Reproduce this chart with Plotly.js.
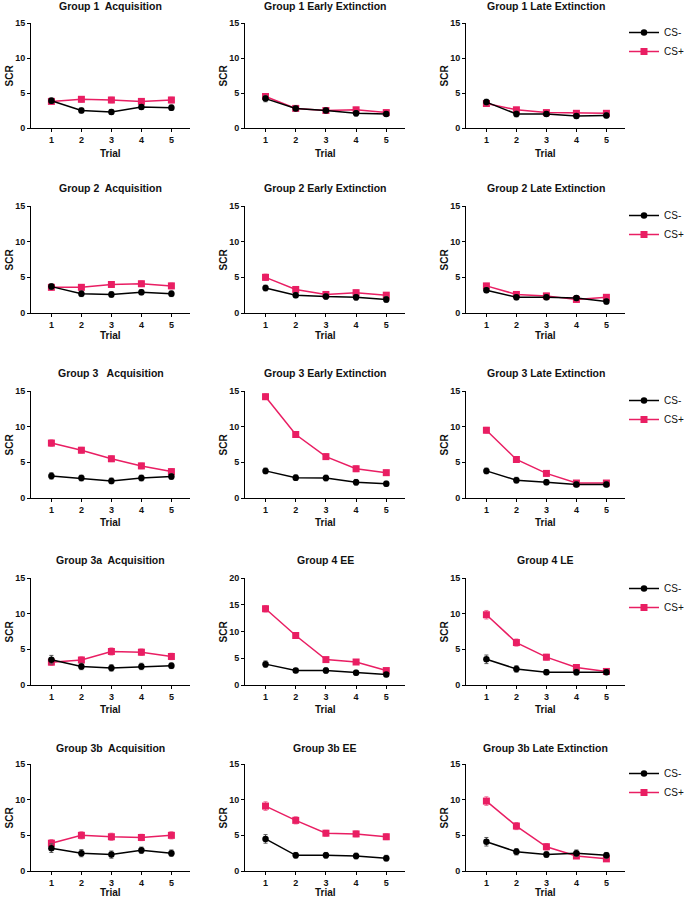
<!DOCTYPE html>
<html>
<head>
<meta charset="utf-8">
<script src="https://cdn.plot.ly/plotly-3.0.1.min.js"></script>
<style>html,body{margin:0;padding:0;background:#fff;overflow:hidden;}#chart{width:687px;height:899px;}</style>
</head>
<body>
<div id="chart"></div>
<script>
// ---- data ----
const trials = [1, 2, 3, 4, 5];
const seriesNames = ["CS-", "CS+"];
const panelTitles = [
  "Group 1\u00a0 Acquisition", "Group 1 Early Extinction", "Group 1 Late Extinction",
  "Group 2\u00a0 Acquisition", "Group 2 Early Extinction", "Group 2 Late Extinction",
  "Group 3\u00a0\u00a0 Acquisition", "Group 3 Early Extinction", "Group 3 Late Extinction",
  "Group 3a\u00a0 Acquisition", "Group 4 EE", "Group 4 LE",
  "Group 3b\u00a0 Acquisition", "Group 3b EE", "Group 3b Late Extinction"
];
const xAxisTitle = "Trial";
const yAxisTitle = "SCR";
const yTickVals15 = [0, 5, 10, 15];
const yTickVals20 = [0, 5, 10, 15, 20];

// means (SCR) and error (SEM) per panel
const g1AcqMinus = [3.9, 2.5, 2.3, 3.0, 2.9];  const g1AcqMinusErr = [0.4, 0.35, 0.35, 0.35, 0.4];
const g1AcqPlus  = [3.8, 4.1, 4.0, 3.8, 4.0];  const g1AcqPlusErr  = [0.4, 0.4, 0.4, 0.4, 0.4];
const g1EEMinus  = [4.2, 2.8, 2.5, 2.1, 2.0];  const g1EEMinusErr  = [0.45, 0.35, 0.35, 0.4, 0.35];
const g1EEPlus   = [4.5, 2.8, 2.5, 2.6, 2.2];  const g1EEPlusErr   = [0.4, 0.35, 0.35, 0.35, 0.35];
const g1LEMinus  = [3.7, 2.0, 2.0, 1.7, 1.8];  const g1LEMinusErr  = [0.4, 0.4, 0.35, 0.35, 0.35];
const g1LEPlus   = [3.5, 2.6, 2.2, 2.1, 2.1];  const g1LEPlusErr   = [0.4, 0.35, 0.35, 0.35, 0.35];

const g2AcqMinus = [3.7, 2.7, 2.6, 2.9, 2.7];  const g2AcqMinusErr = [0.4, 0.4, 0.4, 0.35, 0.4];
const g2AcqPlus  = [3.6, 3.6, 4.0, 4.1, 3.8];  const g2AcqPlusErr  = [0.4, 0.4, 0.4, 0.4, 0.4];
const g2EEMinus  = [3.5, 2.5, 2.3, 2.2, 1.9];  const g2EEMinusErr  = [0.4, 0.35, 0.35, 0.4, 0.4];
const g2EEPlus   = [5.0, 3.3, 2.6, 2.85, 2.5]; const g2EEPlusErr   = [0.45, 0.4, 0.35, 0.35, 0.35];
const g2LEMinus  = [3.2, 2.2, 2.2, 2.1, 1.6];  const g2LEMinusErr  = [0.35, 0.35, 0.35, 0.35, 0.35];
const g2LEPlus   = [3.8, 2.6, 2.4, 1.9, 2.2];  const g2LEPlusErr   = [0.35, 0.35, 0.35, 0.35, 0.35];

const g3AcqMinus = [3.1, 2.8, 2.4, 2.8, 3.0];  const g3AcqMinusErr = [0.45, 0.4, 0.4, 0.4, 0.4];
const g3AcqPlus  = [7.7, 6.7, 5.5, 4.5, 3.7];  const g3AcqPlusErr  = [0.45, 0.4, 0.4, 0.4, 0.4];
const g3EEMinus  = [3.8, 2.85, 2.8, 2.2, 2.0]; const g3EEMinusErr  = [0.4, 0.4, 0.4, 0.4, 0.35];
const g3EEPlus   = [14.2, 8.9, 5.8, 4.1, 3.55];const g3EEPlusErr   = [0.4, 0.4, 0.4, 0.4, 0.35];
const g3LEMinus  = [3.8, 2.5, 2.2, 1.9, 1.9];  const g3LEMinusErr  = [0.4, 0.4, 0.35, 0.35, 0.35];
const g3LEPlus   = [9.5, 5.4, 3.45, 2.1, 2.1]; const g3LEPlusErr   = [0.4, 0.4, 0.35, 0.3, 0.3];

const g3aAcqMinus = [3.55, 2.6, 2.4, 2.6, 2.7]; const g3aAcqMinusErr = [0.6, 0.45, 0.45, 0.45, 0.4];
const g3aAcqPlus  = [3.2, 3.5, 4.7, 4.6, 4.0];  const g3aAcqPlusErr  = [0.45, 0.45, 0.5, 0.45, 0.45];
const g4EEMinus   = [3.9, 2.7, 2.7, 2.3, 1.95]; const g4EEMinusErr   = [0.6, 0.4, 0.5, 0.45, 0.4];
const g4EEPlus    = [14.25, 9.25, 4.75, 4.3, 2.7]; const g4EEPlusErr = [0.6, 0.55, 0.4, 0.4, 0.35];
const g4LEMinus   = [3.6, 2.25, 1.8, 1.8, 1.8]; const g4LEMinusErr   = [0.6, 0.45, 0.35, 0.4, 0.35];
const g4LEPlus    = [9.85, 5.95, 3.9, 2.45, 1.9]; const g4LEPlusErr  = [0.6, 0.5, 0.4, 0.35, 0.35];

const g3bAcqMinus = [3.2, 2.5, 2.3, 2.9, 2.5];  const g3bAcqMinusErr = [0.6, 0.5, 0.5, 0.45, 0.45];
const g3bAcqPlus  = [3.9, 5.0, 4.8, 4.7, 5.0];  const g3bAcqPlusErr  = [0.5, 0.5, 0.5, 0.45, 0.5];
const g3bEEMinus  = [4.5, 2.2, 2.2, 2.1, 1.8];  const g3bEEMinusErr  = [0.6, 0.4, 0.4, 0.4, 0.4];
const g3bEEPlus   = [9.1, 7.1, 5.3, 5.2, 4.8];  const g3bEEPlusErr   = [0.6, 0.5, 0.4, 0.4, 0.4];
const g3bLEMinus  = [4.1, 2.7, 2.3, 2.5, 2.2];  const g3bLEMinusErr  = [0.6, 0.45, 0.4, 0.45, 0.4];
const g3bLEPlus   = [9.8, 6.3, 3.4, 2.1, 1.7];  const g3bLEPlusErr   = [0.6, 0.5, 0.45, 0.35, 0.35];

const panels = [
  [g1AcqMinus, g1AcqMinusErr, g1AcqPlus, g1AcqPlusErr],
  [g1EEMinus, g1EEMinusErr, g1EEPlus, g1EEPlusErr],
  [g1LEMinus, g1LEMinusErr, g1LEPlus, g1LEPlusErr],
  [g2AcqMinus, g2AcqMinusErr, g2AcqPlus, g2AcqPlusErr],
  [g2EEMinus, g2EEMinusErr, g2EEPlus, g2EEPlusErr],
  [g2LEMinus, g2LEMinusErr, g2LEPlus, g2LEPlusErr],
  [g3AcqMinus, g3AcqMinusErr, g3AcqPlus, g3AcqPlusErr],
  [g3EEMinus, g3EEMinusErr, g3EEPlus, g3EEPlusErr],
  [g3LEMinus, g3LEMinusErr, g3LEPlus, g3LEPlusErr],
  [g3aAcqMinus, g3aAcqMinusErr, g3aAcqPlus, g3aAcqPlusErr],
  [g4EEMinus, g4EEMinusErr, g4EEPlus, g4EEPlusErr],
  [g4LEMinus, g4LEMinusErr, g4LEPlus, g4LEPlusErr],
  [g3bAcqMinus, g3bAcqMinusErr, g3bAcqPlus, g3bAcqPlusErr],
  [g3bEEMinus, g3bEEMinusErr, g3bEEPlus, g3bEEPlusErr],
  [g3bLEMinus, g3bLEMinusErr, g3bLEPlus, g3bLEPlusErr]
];
const yMax = [15,15,15, 15,15,15, 15,15,15, 15,20,15, 15,15,15];

// ---- layout geometry (px) ----
const W = 687, H = 899;
const colX = [[31, 190], [245, 405], [466, 625]];
const rowY = [[23, 128], [206, 313], [391, 498], [578, 685], [764, 871]];
const titleY = [6, 188, 373, 560, 748];
const trialY = [153, 336, 522, 709, 892];
const scrX = [9, 223, 444];
const legendTopY = [18, 201, 386, 574, 759];

const FONT = '"Liberation Sans", Arial, Helvetica, sans-serif';
const PINK = '#E91E63';
const PINK_ERR = '#F06C98';
const BLACK_ERR = '#555555';

const traces = [];
const layout = {
  width: W, height: H,
  margin: {l: 0, r: 0, t: 0, b: 0, autoexpand: false},
  paper_bgcolor: '#fff', plot_bgcolor: '#fff',
  showlegend: true,
  annotations: []
};

panels.forEach((p, i) => {
  const r = Math.floor(i / 3), c = i % 3;
  const k = i + 1;
  const xa = 'x' + (k > 1 ? k : ''), ya = 'y' + (k > 1 ? k : '');
  const xKey = 'xaxis' + (k > 1 ? k : ''), yKey = 'yaxis' + (k > 1 ? k : '');
  const legName = 'legend' + (r > 0 ? (r + 1) : '');
  const showLeg = (c === 2);

  traces.push({
    x: trials, y: p[2], name: seriesNames[1], xaxis: xa, yaxis: ya,
    type: 'scatter', mode: 'lines+markers', cliponaxis: false,
    line: {color: PINK, width: 1.5},
    marker: {symbol: 'square', size: 7, color: PINK},
    error_y: {type: 'data', array: p[3], visible: true, color: PINK_ERR, thickness: 1, width: 2},
    showlegend: showLeg, legend: legName, legendrank: 2
  });
  traces.push({
    x: trials, y: p[0], name: seriesNames[0], xaxis: xa, yaxis: ya,
    type: 'scatter', mode: 'lines+markers', cliponaxis: false,
    line: {color: '#000', width: 1.5},
    marker: {symbol: 'circle', size: 6.5, color: '#000'},
    error_y: {type: 'data', array: p[1], visible: true, color: BLACK_ERR, thickness: 1, width: 2},
    showlegend: showLeg, legend: legName, legendrank: 1
  });

  const tickFont = {family: FONT, size: 9, color: '#111', weight: 700};
  layout[xKey] = {
    domain: [colX[c][0] / W, colX[c][1] / W],
    anchor: ya, range: [0.32, 5.62], fixedrange: true,
    tickvals: trials, ticktext: trials.map(String),
    ticks: 'outside', ticklen: 3, tickwidth: 1, tickcolor: '#000',
    showline: true, linecolor: '#000', linewidth: 1, showgrid: false, zeroline: false,
    tickfont: tickFont
  };
  const yt = yMax[i] === 20 ? yTickVals20 : yTickVals15;
  layout[yKey] = {
    domain: [1 - rowY[r][1] / H, 1 - rowY[r][0] / H],
    anchor: xa, range: [0, yMax[i]], fixedrange: true,
    tickvals: yt, ticktext: yt.map(String),
    ticks: 'outside', ticklen: 3, tickwidth: 1, tickcolor: '#000',
    showline: true, linecolor: '#000', linewidth: 1, showgrid: false, zeroline: false,
    tickfont: tickFont
  };

  const titleFont = {family: FONT, size: 10, color: '#111', weight: 700};
  // panel title
  layout.annotations.push({
    text: panelTitles[i], xref: 'paper', yref: 'paper',
    x: (colX[c][0] + colX[c][1]) / 2 / W, y: 1 - titleY[r] / H,
    xanchor: 'center', yanchor: 'middle', showarrow: false,
    font: {family: FONT, size: 10.5, color: '#111', weight: 700}
  });
  // x axis title
  layout.annotations.push({
    text: xAxisTitle, xref: 'paper', yref: 'paper',
    x: (colX[c][0] + colX[c][1]) / 2 / W, y: 1 - trialY[r] / H,
    xanchor: 'center', yanchor: 'middle', showarrow: false, font: titleFont
  });
  // y axis title
  layout.annotations.push({
    text: yAxisTitle, xref: 'paper', yref: 'paper', textangle: -90,
    x: scrX[c] / W, y: 1 - (rowY[r][0] + rowY[r][1]) / 2 / H,
    xanchor: 'center', yanchor: 'middle', showarrow: false, font: titleFont
  });

  if (c === 2) {
    layout[legName] = {
      x: 624 / W, y: 1 - legendTopY[r] / H, xanchor: 'left', yanchor: 'top',
      bgcolor: 'rgba(0,0,0,0)', borderwidth: 0,
      font: {family: FONT, size: 10, color: '#111'},
      itemwidth: 30, tracegroupgap: 0
    };
  }
});

Plotly.newPlot('chart', traces, layout, {displayModeBar: false, staticPlot: true});
</script>
</body>
</html>
